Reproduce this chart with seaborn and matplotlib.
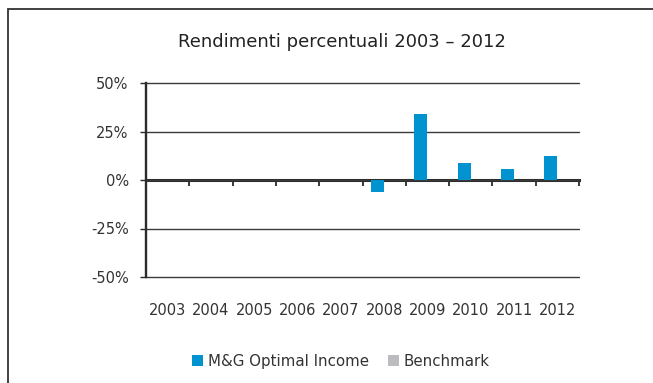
import numpy as np
import pandas as pd
import matplotlib
matplotlib.use("Agg")
import matplotlib.pyplot as plt
from matplotlib.patches import Rectangle
import seaborn as sns

# dati (rendimenti annui in %)
years = ["2003", "2004", "2005", "2006", "2007", "2008", "2009", "2010", "2011", "2012"]
fund = [np.nan, np.nan, np.nan, np.nan, np.nan, -6.4, 33.8, 9.0, 5.9, 12.6]
benchmark = [np.nan] * 10
series = ["M&G Optimal Income", "Benchmark"]
colors = ["#0093D0", "#BBBCBF"]
yticks = [-50, -25, 0, 25, 50]
ytick_labels = ["-50%", "-25%", "0%", "25%", "50%"]

df = pd.DataFrame({
    "year": years * 2,
    "value": fund + benchmark,
    "series": [series[0]] * 10 + [series[1]] * 10,
})

sns.set_style("white")
plt.rcParams["font.family"] = ["DejaVu Sans"]
plt.rcParams["axes.unicode_minus"] = False

fig = plt.figure(figsize=(6.53, 3.83), dpi=100)
ax = fig.add_axes([146 / 653, 1 - 277 / 383, (579 - 146) / 653, (277 - 83) / 383])

sns.barplot(data=df, x="year", y="value", hue="series", hue_order=series,
            order=years, palette=dict(zip(series, colors)), saturation=1,
            width=0.6, errorbar=None, ax=ax, zorder=3, linewidth=0,
            edgecolor="none")

ax.set_xlim(-0.5, 9.5)
ax.set_ylim(-50, 50)
ax.set_yticks(yticks)
ax.set_yticklabels(ytick_labels)
ax.set_xlabel("")
ax.set_ylabel("")

dark = "#2b2b2b"
ax.yaxis.grid(True, color="#3a3a3a", lw=1.0, zorder=1)
for gl in ax.get_ygridlines():
    gl.set_clip_on(False)
ax.set_axisbelow(True)
for s in ["top", "right", "bottom"]:
    ax.spines[s].set_visible(False)
ax.spines["left"].set_color(dark)
ax.spines["left"].set_linewidth(1.7)
ax.tick_params(axis="y", length=4.5, width=1.0, color=dark, pad=8,
               labelsize=10.5, labelcolor="#333333", left=True)
ax.tick_params(axis="x", length=0, pad=19, labelsize=10.5, labelcolor="#333333")

# linea dello zero con tacche tra le categorie
sec = ax.secondary_xaxis(0.5)
sec.set_xticks(np.arange(-0.5, 10, 1))
sec.set_xticklabels([])
sec.spines["top"].set_linewidth(2.2)
sec.spines["top"].set_color(dark)
sec.tick_params(direction="in", length=4.5, width=1.3, color=dark)

ax.legend_.remove()
h, l = ax.get_legend_handles_labels()
fig.legend(h, l, loc="center", bbox_to_anchor=(0.522, 0.057), ncol=2,
           frameon=False, handlelength=0.75, handleheight=0.75,
           handletextpad=0.3, columnspacing=1.3, fontsize=10.8,
           labelcolor="#333333")

fig.text(0.524, 0.89, "Rendimenti percentuali 2003 – 2012", ha="center",
         va="center", fontsize=13, color="#222222")

# cornice esterna
fig.patches.append(Rectangle((8 / 653, -0.2), 1.2, 1.2 - 9 / 383,
                             transform=fig.transFigure, fill=False,
                             edgecolor="#333333", lw=1.3))

fig.savefig("out.png", dpi=100)
